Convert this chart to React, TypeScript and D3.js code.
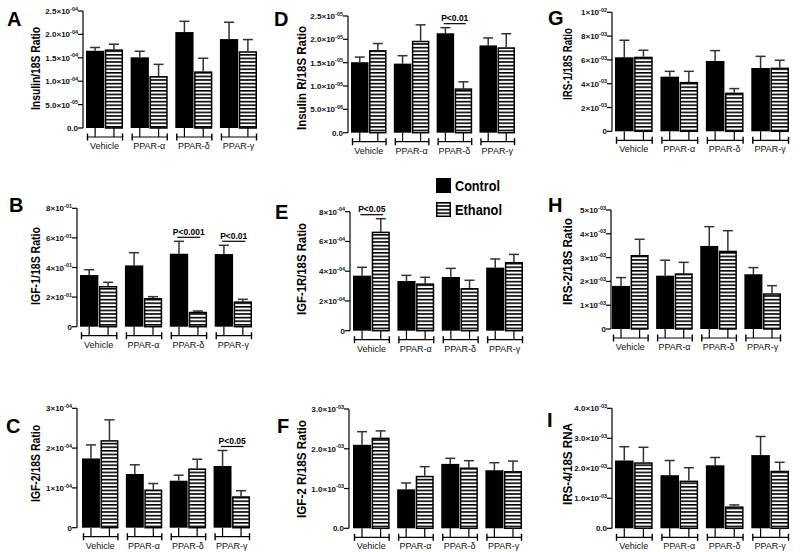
import React from "react";
import * as d3 from "d3";

// ---------- shared categories ----------
const categories = ["Vehicle", "PPAR-α", "PPAR-δ", "PPAR-γ"];
const seriesNames = ["Control", "Ethanol"];

// ---------- A: Insulin ----------
const insulinControl = [1.65e-4, 1.51e-4, 2.05e-4, 1.9e-4];
const insulinControlSem = [0.07e-4, 0.13e-4, 0.23e-4, 0.36e-4];
const insulinEthanol = [1.68e-4, 1.11e-4, 1.21e-4, 1.64e-4];
const insulinEthanolSem = [0.11e-4, 0.25e-4, 0.28e-4, 0.25e-4];
const insulinTicks = [0, 5e-5, 1e-4, 1.5e-4, 2e-4, 2.5e-4];
const insulinTickLabels = ["0.0", "5.0×10^-05", "1.0×10^-04", "1.5×10^-04", "2.0×10^-04", "2.5×10^-04"];

// ---------- B: IGF-1 ----------
const igf1Control = [0.349, 0.414, 0.493, 0.491];
const igf1ControlSem = [0.036, 0.086, 0.084, 0.059];
const igf1Ethanol = [0.275, 0.194, 0.101, 0.171];
const igf1EthanolSem = [0.025, 0.009, 0.005, 0.014];
const igf1Ticks = [0, 0.2, 0.4, 0.6, 0.8];
const igf1TickLabels = ["0", "2×10^-01", "4×10^-01", "6×10^-01", "8×10^-01"];
const igf1Sig = [
  { group: "PPAR-δ", text: "P<0.001" },
  { group: "PPAR-γ", text: "P<0.01" },
];

// ---------- C: IGF-2 ----------
const igf2Control = [1.74e-4, 1.35e-4, 1.18e-4, 1.55e-4];
const igf2ControlSem = [0.34e-4, 0.23e-4, 0.14e-4, 0.39e-4];
const igf2Ethanol = [2.2e-4, 0.96e-4, 1.49e-4, 0.79e-4];
const igf2EthanolSem = [0.51e-4, 0.15e-4, 0.23e-4, 0.14e-4];
const igf2Ticks = [0, 1e-4, 2e-4, 3e-4];
const igf2TickLabels = ["0", "1×10^-04", "2×10^-04", "3×10^-04"];
const igf2Sig = [{ group: "PPAR-γ", text: "P<0.05" }];

// ---------- D: Insulin R ----------
const insRControl = [1.51e-5, 1.48e-5, 2.13e-5, 1.87e-5];
const insRControlSem = [0.11e-5, 0.17e-5, 0.12e-5, 0.16e-5];
const insREthanol = [1.77e-5, 1.97e-5, 0.95e-5, 1.83e-5];
const insREthanolSem = [0.14e-5, 0.34e-5, 0.14e-5, 0.29e-5];
const insRTicks = [0, 5e-6, 1e-5, 1.5e-5, 2e-5, 2.5e-5];
const insRTickLabels = ["0.0", "5.0×10^-06", "1.0×10^-05", "1.5×10^-05", "2.0×10^-05", "2.5×10^-05"];
const insRSig = [{ group: "PPAR-δ", text: "P<0.01" }];

// ---------- E: IGF-1R ----------
const igf1RControl = [3.7e-4, 3.34e-4, 3.61e-4, 4.24e-4];
const igf1RControlSem = [0.56e-4, 0.38e-4, 0.58e-4, 0.58e-4];
const igf1REthanol = [6.66e-4, 3.18e-4, 2.87e-4, 4.62e-4];
const igf1REthanolSem = [0.87e-4, 0.41e-4, 0.52e-4, 0.51e-4];
const igf1RTicks = [0, 2e-4, 4e-4, 6e-4, 8e-4];
const igf1RTickLabels = ["0", "2×10^-04", "4×10^-04", "6×10^-04", "8×10^-04"];
const igf1RSig = [{ group: "Vehicle", text: "P<0.05" }];

// ---------- F: IGF-2 R ----------
const igf2RControl = [2.1e-3, 0.98e-3, 1.62e-3, 1.46e-3];
const igf2RControlSem = [0.33e-3, 0.16e-3, 0.14e-3, 0.19e-3];
const igf2REthanol = [2.28e-3, 1.32e-3, 1.53e-3, 1.44e-3];
const igf2REthanolSem = [0.17e-3, 0.23e-3, 0.17e-3, 0.25e-3];
const igf2RTicks = [0, 1e-3, 2e-3, 3e-3];
const igf2RTickLabels = ["0.0", "1.0×10^-03", "2.0×10^-03", "3.0×10^-03"];

// ---------- G: IRS-1 ----------
const irs1Control = [6.22e-3, 4.59e-3, 5.91e-3, 5.32e-3];
const irs1ControlSem = [1.43e-3, 0.45e-3, 0.87e-3, 0.98e-3];
const irs1Ethanol = [6.27e-3, 4.15e-3, 3.25e-3, 5.35e-3];
const irs1EthanolSem = [0.54e-3, 0.89e-3, 0.34e-3, 0.62e-3];
const irs1Ticks = [0, 2e-3, 4e-3, 6e-3, 8e-3, 1e-2];
const irs1TickLabels = ["0", "2×10^-03", "4×10^-03", "6×10^-03", "8×10^-03", "1×10^-02"];

// ---------- H: IRS-2 ----------
const irs2Control = [1.81e-3, 2.24e-3, 3.49e-3, 2.3e-3];
const irs2ControlSem = [0.35e-3, 0.65e-3, 0.81e-3, 0.28e-3];
const irs2Ethanol = [3.11e-3, 2.34e-3, 3.29e-3, 1.5e-3];
const irs2EthanolSem = [0.66e-3, 0.46e-3, 0.84e-3, 0.32e-3];
const irs2Ticks = [0, 1e-3, 2e-3, 3e-3, 4e-3, 5e-3];
const irs2TickLabels = ["0", "1×10^-03", "2×10^-03", "3×10^-03", "4×10^-03", "5×10^-03"];

// ---------- I: IRS-4 ----------
const irs4Control = [2.26e-3, 1.77e-3, 2.1e-3, 2.44e-3];
const irs4ControlSem = [0.46e-3, 0.49e-3, 0.26e-3, 0.62e-3];
const irs4Ethanol = [2.2e-3, 1.59e-3, 0.73e-3, 1.92e-3];
const irs4EthanolSem = [0.5e-3, 0.43e-3, 0.05e-3, 0.28e-3];
const irs4Ticks = [0, 1e-3, 2e-3, 3e-3, 4e-3];
const irs4TickLabels = ["0.0", "1.0×10^-03", "2.0×10^-03", "3.0×10^-03", "4.0×10^-03"];

type Sig = { group: string; text: string };
type PanelDef = {
  letter: string;
  title: string;
  control: number[];
  controlSem: number[];
  ethanol: number[];
  ethanolSem: number[];
  ticks: number[];
  tickLabels: string[];
  sig: Sig[];
  // layout
  lx: number; ly: number;
  tx: number; ty: number; tlen: number;
  axisX: number; barX0: number; barX1: number; yTop: number; y0: number;
};

const panels: PanelDef[] = [
  { letter: "A", title: "Insulin/18S Ratio", control: insulinControl, controlSem: insulinControlSem, ethanol: insulinEthanol, ethanolSem: insulinEthanolSem, ticks: insulinTicks, tickLabels: insulinTickLabels, sig: [],
    lx: 7, ly: 26, tx: 36, ty: 68.5, tlen: 83, axisX: 83, barX0: 86, barX1: 257, yTop: 11, y0: 128 },
  { letter: "D", title: "Insulin R/18S Ratio", control: insRControl, controlSem: insRControlSem, ethanol: insREthanol, ethanolSem: insREthanolSem, ticks: insRTicks, tickLabels: insRTickLabels, sig: insRSig,
    lx: 274, ly: 26, tx: 302, ty: 78, tlen: 104, axisX: 348, barX0: 351, barX1: 515, yTop: 16, y0: 132.7 },
  { letter: "G", title: "IRS-1/18S Ratio", control: irs1Control, controlSem: irs1ControlSem, ethanol: irs1Ethanol, ethanolSem: irs1EthanolSem, ticks: irs1Ticks, tickLabels: irs1TickLabels, sig: [],
    lx: 548, ly: 25, tx: 568, ty: 64, tlen: 72, axisX: 612, barX0: 615, barX1: 789, yTop: 12.3, y0: 131.3 },
  { letter: "B", title: "IGF-1/18S Ratio", control: igf1Control, controlSem: igf1ControlSem, ethanol: igf1Ethanol, ethanolSem: igf1EthanolSem, ticks: igf1Ticks, tickLabels: igf1TickLabels, sig: igf1Sig,
    lx: 9, ly: 212, tx: 36, ty: 266, tlen: 78, axisX: 77, barX0: 80, barX1: 252, yTop: 208.3, y0: 326.7 },
  { letter: "E", title: "IGF-1R/18S Ratio", control: igf1RControl, controlSem: igf1RControlSem, ethanol: igf1REthanol, ethanolSem: igf1REthanolSem, ticks: igf1RTicks, tickLabels: igf1RTickLabels, sig: igf1RSig,
    lx: 275, ly: 219, tx: 302, ty: 269, tlen: 92, axisX: 350, barX0: 353, barX1: 523, yTop: 211.7, y0: 330.7 },
  { letter: "H", title: "IRS-2/18S Ratio", control: irs2Control, controlSem: irs2ControlSem, ethanol: irs2Ethanol, ethanolSem: irs2EthanolSem, ticks: irs2Ticks, tickLabels: irs2TickLabels, sig: [],
    lx: 548, ly: 212, tx: 568, ty: 261.5, tlen: 87, axisX: 611, barX0: 612, barX1: 781, yTop: 210, y0: 329 },
  { letter: "C", title: "IGF-2/18S Ratio", control: igf2Control, controlSem: igf2ControlSem, ethanol: igf2Ethanol, ethanolSem: igf2EthanolSem, ticks: igf2Ticks, tickLabels: igf2TickLabels, sig: igf2Sig,
    lx: 6, ly: 433, tx: 36, ty: 463.5, tlen: 77, axisX: 77, barX0: 82, barX1: 250, yTop: 408.3, y0: 527.7 },
  { letter: "F", title: "IGF-2 R/18S Ratio", control: igf2RControl, controlSem: igf2RControlSem, ethanol: igf2REthanol, ethanolSem: igf2REthanolSem, ticks: igf2RTicks, tickLabels: igf2RTickLabels, sig: [],
    lx: 277, ly: 433, tx: 302, ty: 469, tlen: 98, axisX: 349, barX0: 353, barX1: 522, yTop: 409, y0: 528.3 },
  { letter: "I", title: "IRS-4/18S RNA", control: irs4Control, controlSem: irs4ControlSem, ethanol: irs4Ethanol, ethanolSem: irs4EthanolSem, ticks: irs4Ticks, tickLabels: irs4TickLabels, sig: [],
    lx: 547, ly: 427, tx: 568, ty: 464, tlen: 82, axisX: 612, barX0: 615, barX1: 789, yTop: 408.3, y0: 528.3 },
];

const FONT = "'Liberation Sans', Arial, Helvetica, sans-serif";

function Panel({ p }: { p: PanelDef }) {
  const maxTick = p.ticks[p.ticks.length - 1];
  const y = d3.scaleLinear().domain([0, maxTick]).range([p.y0, p.yTop]);
  const xg = d3.scaleBand<string>().domain(categories).range([p.barX0, p.barX1]).paddingInner(0.17);
  const xs = d3.scaleBand<string>().domain(seriesNames).range([0, xg.bandwidth()]).paddingInner(0.03);
  const bw = xg.bandwidth();
  const sw = xs.bandwidth();
  const brY = p.y0 + 9;

  const bars: { cat: string; s: string; v: number; e: number; gi: number }[] = [];
  categories.forEach((cat, i) => {
    bars.push({ cat, s: "Control", v: p.control[i], e: p.controlSem[i], gi: i });
    bars.push({ cat, s: "Ethanol", v: p.ethanol[i], e: p.ethanolSem[i], gi: i });
  });

  return (
    <g>
      <text x={p.lx} y={p.ly} fontSize={20} fontWeight="bold" fontFamily={FONT}>{p.letter}</text>
      <text
        transform={`translate(${p.tx},${p.ty}) rotate(-90)`}
        textAnchor="middle"
        dominantBaseline="central"
        fontSize={12.5}
        fontWeight="bold"
        fontFamily={FONT}
        textLength={p.tlen}
        lengthAdjust="spacingAndGlyphs"
      >
        {p.title}
      </text>
      <line x1={p.axisX} x2={p.axisX} y1={y(maxTick)} y2={p.y0} stroke="#000" strokeWidth={1.2} />
      {p.ticks.map((t, i) => {
        const [main, sup] = p.tickLabels[i].split("^");
        return (
          <g key={i}>
            <line x1={p.axisX - 5} x2={p.axisX} y1={y(t)} y2={y(t)} stroke="#000" strokeWidth={1.2} />
            <text x={p.axisX - 5} y={y(t) + 3} textAnchor="end" fontSize={8} fontWeight="bold" fontFamily={FONT} fill="#111">
              <tspan>{main}</tspan>
              {sup ? <tspan fontSize={5.5} dy={-3.4}>{sup}</tspan> : null}
            </text>
          </g>
        );
      })}
      {bars.map((b, i) => {
        const x0 = (xg(b.cat) as number) + (xs(b.s) as number);
        const cx = x0 + sw / 2;
        const top = y(b.v);
        const et = y(b.v + b.e);
        const isEth = b.s === "Ethanol";
        return (
          <g key={i}>
            <line x1={cx} x2={cx} y1={top} y2={et} stroke="#333" strokeWidth={1.5} />
            <line x1={cx - 5} x2={cx + 5} y1={et} y2={et} stroke="#333" strokeWidth={1.5} />
            <rect
              x={x0 + (isEth ? 0.75 : 0)}
              y={top + (isEth ? 0.75 : 0)}
              width={sw - (isEth ? 1.5 : 0)}
              height={p.y0 - top - (isEth ? 0.75 : 0)}
              fill={isEth ? "url(#hatch)" : "#000"}
              stroke={isEth ? "#000" : "none"}
              strokeWidth={1.5}
            />
          </g>
        );
      })}
      {categories.map((cat) => {
        const gx = xg(cat) as number;
        return (
          <g key={cat}>
            <line x1={gx + 1.5} x2={gx + bw - 0.5} y1={brY} y2={brY} stroke="#000" strokeWidth={1.2} />
            <line x1={gx + 1.5} x2={gx + 1.5} y1={brY - 3.5} y2={brY + 3.5} stroke="#000" strokeWidth={1.4} />
            <line x1={gx + bw - 0.5} x2={gx + bw - 0.5} y1={brY - 3.5} y2={brY + 3.5} stroke="#000" strokeWidth={1.4} />
            {seriesNames.map((s) => {
              const cx = gx + (xs(s) as number) + sw / 2;
              return <line key={s} x1={cx} x2={cx} y1={p.y0} y2={brY} stroke="#000" strokeWidth={1.2} />;
            })}
            <text x={gx + bw / 2} y={p.y0 + 21} textAnchor="middle" fontSize={9} fontFamily={FONT} fill="#111">
              {cat}
            </text>
          </g>
        );
      })}
      {p.sig.map((s, i) => {
        const gi = categories.indexOf(s.group);
        const gx = xg(s.group) as number;
        const maxV = Math.max(p.control[gi] + p.controlSem[gi], p.ethanol[gi] + p.ethanolSem[gi]);
        const ly = y(maxV) - 4;
        return (
          <g key={i}>
            <line x1={gx + bw * 0.2} x2={gx + bw * 0.82} y1={ly} y2={ly} stroke="#000" strokeWidth={1.2} />
            <text x={gx + bw * 0.51} y={ly - 2.5} textAnchor="middle" fontSize={8.5} fontWeight="bold" fontFamily={FONT}>
              {s.text}
            </text>
          </g>
        );
      })}
    </g>
  );
}

export default function App() {
  return (
    <svg
      width={800}
      height={552}
      viewBox="0 0 800 552"
      style={{ position: "absolute", left: 0, top: 0, background: "#fff" }}
    >
      <defs>
        <pattern id="hatch" patternUnits="userSpaceOnUse" width={10} height={3.6}>
          <rect x={0} y={0} width={10} height={3.6} fill="#fff" />
          <rect x={0} y={0} width={10} height={1.6} fill="#000" />
        </pattern>
      </defs>
      <rect x={0} y={0} width={800} height={552} fill="#fff" />
      {panels.map((p) => (
        <Panel key={p.letter} p={p} />
      ))}
      <rect x={436} y={178} width={15} height={15} fill="#000" />
      <text x={455} y={191} fontSize={15} fontWeight="bold" fontFamily={FONT} textLength={45} lengthAdjust="spacingAndGlyphs">
        {seriesNames[0]}
      </text>
      <rect x={436.75} y={202.75} width={13.5} height={13.5} fill="url(#hatch)" stroke="#000" strokeWidth={1.5} />
      <text x={455} y={215} fontSize={15} fontWeight="bold" fontFamily={FONT} textLength={47} lengthAdjust="spacingAndGlyphs">
        {seriesNames[1]}
      </text>
    </svg>
  );
}
